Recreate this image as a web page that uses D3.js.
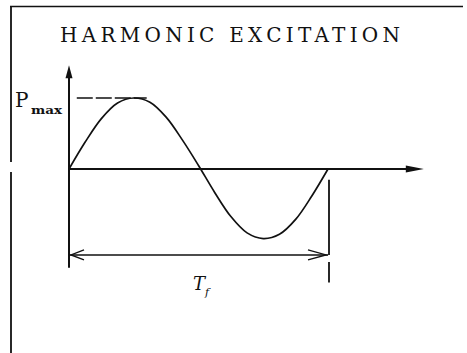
<!DOCTYPE html>
<html>
<head>
<meta charset="utf-8">
<script src="https://cdn.jsdelivr.net/npm/d3@7"></script>
<style>
  html, body { margin: 0; padding: 0; background: #fff; }
  svg { display: block; }
</style>
</head>
<body>
<svg id="chart" width="467" height="353"></svg>
<script>
// Fraction of one period and force normalised to P_max
const periodFraction = [0, 0.0625, 0.125, 0.1875, 0.25, 0.3125, 0.375, 0.4375, 0.5,
                        0.5625, 0.625, 0.6875, 0.75, 0.8125, 0.875, 0.9375, 1];
const forceRatio     = [0, 0.38, 0.71, 0.93, 1.0, 0.94, 0.73, 0.41, 0.05,
                        -0.33, -0.67, -0.90, -0.98, -0.92, -0.71, -0.38, 0];

const title = "HARMONIC EXCITATION";
const amplitudeLabel = { main: "P", sub: "max" };
const periodLabel = { main: "T", sub: "f" };

const serif = "DejaVu Serif";
const svg = d3.select("#chart");
const ink = "#111";

// Scales: one period across, ±P_max vertically
const x = d3.scaleLinear().domain([0, 1]).range([69, 328]);
const y = d3.scaleLinear().domain([-1, 1]).range([240, 98]);

// Outer frame (top and left edges)
svg.append("line").attr("x1", 10).attr("x2", 463).attr("y1", 6.5).attr("y2", 6.5)
  .attr("stroke", ink).attr("stroke-width", 1.6);
svg.append("line").attr("x1", 11).attr("x2", 11).attr("y1", 6).attr("y2", 162)
  .attr("stroke", ink).attr("stroke-width", 1.8);
svg.append("line").attr("x1", 11).attr("x2", 11).attr("y1", 172).attr("y2", 353)
  .attr("stroke", ink).attr("stroke-width", 1.8);

// Title
svg.append("text")
  .attr("x", 60).attr("y", 42)
  .attr("textLength", 340).attr("lengthAdjust", "spacing")
  .style("font-family", serif).style("font-size", "20px").attr("fill", ink)
  .text(title);

// Vertical (force) axis with arrow head
const yTop = y(1.46), yBottom = y(-1.39);
svg.append("line").attr("x1", x(0)).attr("x2", x(0)).attr("y1", yTop + 6).attr("y2", yBottom)
  .attr("stroke", ink).attr("stroke-width", 2);
svg.append("path")
  .attr("d", `M${x(0)},${yTop} L${x(0) - 3.5},${yTop + 13} L${x(0) + 3.5},${yTop + 13} Z`)
  .attr("fill", ink);

// Horizontal (time) axis with solid arrow head
const xEnd = x(1.37);
svg.append("line").attr("x1", x(0)).attr("x2", xEnd - 12).attr("y1", y(0)).attr("y2", y(0))
  .attr("stroke", ink).attr("stroke-width", 1.8);
svg.append("path")
  .attr("d", `M${xEnd},${y(0)} L${xEnd - 18},${y(0) - 3.5} L${xEnd - 18},${y(0) + 3.5} Z`)
  .attr("fill", ink);

// Dashed line marking the peak value
svg.append("line")
  .attr("x1", x(0.03)).attr("x2", x(0.30))
  .attr("y1", y(1)).attr("y2", y(1))
  .attr("stroke", ink).attr("stroke-width", 1.3)
  .attr("stroke-dasharray", "16,3");

// The harmonic load curve
const pts = periodFraction.map((t, i) => [t, forceRatio[i]]);
svg.append("path")
  .datum(pts)
  .attr("d", d3.line().x(d => x(d[0])).y(d => y(d[1])).curve(d3.curveCatmullRom.alpha(0.5)))
  .attr("fill", "none").attr("stroke", ink).attr("stroke-width", 1.7);

// Right extension line at the end of the period
svg.append("line").attr("x1", x(1) + 1).attr("x2", x(1) + 1).attr("y1", y(-0.15)).attr("y2", y(-1.21))
  .attr("stroke", ink).attr("stroke-width", 1.8);
svg.append("line").attr("x1", x(1) + 1).attr("x2", x(1) + 1).attr("y1", y(-1.31)).attr("y2", y(-1.6))
  .attr("stroke", ink).attr("stroke-width", 1.8);

// Period dimension line with open arrow heads
const yDim = y(-1.21);
svg.append("line").attr("x1", x(0)).attr("x2", x(1)).attr("y1", yDim).attr("y2", yDim)
  .attr("stroke", ink).attr("stroke-width", 1.5);
svg.append("path")
  .attr("d", `M${x(0) + 15},${yDim - 5} L${x(0) + 2},${yDim} L${x(0) + 15},${yDim + 5}`)
  .attr("fill", "none").attr("stroke", ink).attr("stroke-width", 1.4);
svg.append("path")
  .attr("d", `M${x(1) - 20},${yDim - 5} L${x(1) - 2},${yDim} L${x(1) - 20},${yDim + 5}`)
  .attr("fill", "none").attr("stroke", ink).attr("stroke-width", 1.4);

// Amplitude label
svg.append("text").attr("x", 15).attr("y", 107)
  .style("font-family", serif).style("font-size", "20px").attr("fill", ink)
  .text(amplitudeLabel.main);
svg.append("text").attr("x", 31).attr("y", 114)
  .attr("textLength", 31).attr("lengthAdjust", "spacingAndGlyphs")
  .style("font-family", serif).style("font-size", "11px").style("font-weight", "bold").attr("fill", ink)
  .text(amplitudeLabel.sub);

// Period label
svg.append("text").attr("x", 193).attr("y", 290)
  .style("font-family", serif).style("font-size", "18px").style("font-style", "italic").attr("fill", ink)
  .text(periodLabel.main);
svg.append("text").attr("x", 205).attr("y", 296)
  .style("font-family", serif).style("font-size", "11px").style("font-style", "italic").attr("fill", ink)
  .text(periodLabel.sub);
</script>
</body>
</html>
